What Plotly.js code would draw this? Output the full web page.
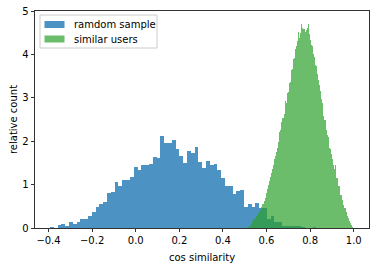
<!DOCTYPE html>
<html>
<head>
<meta charset="utf-8">
<script src="https://cdn.plot.ly/plotly-3.0.1.min.js"></script>
<style>
html,body{margin:0;padding:0;background:#fff;}
#chart{width:380px;height:266px;}
</style>
</head>
<body>
<div id="chart"></div>
<script>
// ---- data ----
const seriesNames = ["ramdom sample", "similar users"];
const blueBinStart = -0.3932;
const blueBinWidth = 0.01745;
const blueHeights = [
  0.023, 0, 0.06, 0.085, 0.04, 0.13, 0.085, 0.13, 0.20, 0.20,
  0.27, 0.38, 0.48, 0.545, 0.59, 0.80, 0.82, 1.05, 0.96, 1.10,
  1.10, 1.17, 1.41, 1.34, 1.45, 1.45, 1.47, 1.64, 1.62, 2.12,
  1.97, 1.97, 2.03, 1.82, 1.66, 1.50, 1.77, 1.73, 1.86, 1.52,
  1.38, 1.54, 1.45, 1.47, 1.33, 1.15, 0.97, 0.97, 0.78, 0.85,
  0.87, 0.49, 0.55, 0.48, 0.58, 0.47, 0.46, 0.21, 0.28, 0.14,
  0.14, 0.05, 0.05, 0.05, 0.05, 0.05, 0.03, 0.01, 0.01, 0.03
];
const greenBinStart = 0.514;
const greenBinWidth = 0.00482;
const greenHeights = [
  0.02, 0.04, 0.07, 0.10, 0.15, 0.18, 0.21, 0.24, 0.27, 0.31,
  0.35, 0.38, 0.42, 0.48, 0.55, 0.63, 0.70, 0.80, 0.90, 0.99,
  1.08, 1.18, 1.27, 1.37, 1.46, 1.58, 1.66, 1.75, 1.84, 1.99,
  2.22, 2.25, 2.45, 2.53, 2.62, 2.92, 2.89, 3.10, 3.14, 3.33,
  3.37, 3.63, 3.67, 3.90, 3.92, 4.12, 4.20, 4.30, 4.52, 4.38,
  4.50, 4.69, 4.60, 4.58, 4.52, 4.56, 4.60, 4.69, 4.48, 4.33,
  4.21, 4.20, 4.00, 3.94, 3.76, 3.74, 3.56, 3.41, 3.30, 3.15,
  2.97, 2.87, 2.58, 2.48, 2.25, 2.14, 2.10, 1.84, 1.81, 1.70,
  1.60, 1.45, 1.36, 1.46, 1.16, 1.16, 0.97, 0.97, 0.76, 0.76,
  0.64, 0.53, 0.45, 0.38, 0.28, 0.22, 0.16, 0.11, 0.07, 0.02
];
const xTickVals = [-0.4, -0.2, 0.0, 0.2, 0.4, 0.6, 0.8, 1.0];
const xTickText = ["\u22120.4", "\u22120.2", "0.0", "0.2", "0.4", "0.6", "0.8", "1.0"];
const yTickVals = [0, 1, 2, 3, 4, 5];
const xTitle = "cos similarity";
const yTitle = "relative count";

// ---- styles ----
const blueColor = "rgba(31,119,180,0.8)";
const greenColor = "rgba(44,160,44,0.7)";
const font = "DejaVu Sans, sans-serif";

function centers(start, width, n) {
  const c = [];
  for (let i = 0; i < n; i++) c.push(start + (i + 0.5) * width);
  return c;
}

const traces = [
  {
    type: "bar", name: seriesNames[0],
    x: centers(blueBinStart, blueBinWidth, blueHeights.length),
    y: blueHeights, width: blueBinWidth,
    marker: {color: blueColor, line: {width: 0}},
    showlegend: false, hoverinfo: "skip"
  },
  {
    type: "bar", name: seriesNames[1],
    x: centers(greenBinStart, greenBinWidth, greenHeights.length),
    y: greenHeights, width: greenBinWidth,
    marker: {color: greenColor, line: {width: 0}},
    showlegend: false, hoverinfo: "skip"
  }
];

// plot area in pixels
const M = {l: 35, r: 11, t: 11, b: 38};
const PW = 380 - M.l - M.r, PH = 266 - M.t - M.b;
const px = v => (v - M.l) / PW;
const py = v => (266 - M.b - v) / PH;

const shapes = [
  {type: "rect", xref: "paper", yref: "paper",
   x0: px(40), x1: px(157), y0: py(48), y1: py(15),
   fillcolor: "rgba(255,255,255,0.8)", line: {color: "#cccccc", width: 1}},
  {type: "rect", xref: "paper", yref: "paper",
   x0: px(44.5), x1: px(64.5), y0: py(28), y1: py(21),
   fillcolor: blueColor, line: {width: 0}},
  {type: "rect", xref: "paper", yref: "paper",
   x0: px(44.5), x1: px(64.5), y0: py(42.5), y1: py(35.5),
   fillcolor: greenColor, line: {width: 0}}
];
const annotations = [
  {xref: "paper", yref: "paper", x: px(72), y: py(24.5), xanchor: "left", yanchor: "middle",
   text: seriesNames[0], showarrow: false, font: {family: font, size: 10, color: "#000"}},
  {xref: "paper", yref: "paper", x: px(72), y: py(39), xanchor: "left", yanchor: "middle",
   text: seriesNames[1], showarrow: false, font: {family: font, size: 10, color: "#000"}}
];

const axisCommon = {
  showline: true, mirror: true, linecolor: "#000", linewidth: 0.8,
  ticks: "outside", ticklen: 3.5, tickwidth: 0.8, tickcolor: "#000",
  showgrid: false, zeroline: false,
  tickfont: {family: font, size: 10, color: "#000"}
};

const layout = {
  width: 380, height: 266,
  margin: M,
  paper_bgcolor: "#fff", plot_bgcolor: "#fff",
  barmode: "overlay", bargap: 0,
  showlegend: false,
  font: {family: font, size: 10, color: "#000"},
  xaxis: Object.assign({}, axisCommon, {
    range: [-0.462, 1.07], tickvals: xTickVals, ticktext: xTickText,
    title: {text: xTitle, font: {family: font, size: 10, color: "#000"}, standoff: 8}
  }),
  yaxis: Object.assign({}, axisCommon, {
    range: [0, 5], tickvals: yTickVals,
    title: {text: yTitle, font: {family: font, size: 10, color: "#000"}, standoff: 2}
  }),
  shapes: shapes,
  annotations: annotations
};

Plotly.newPlot("chart", traces, layout, {staticPlot: true, displayModeBar: false});
</script>
</body>
</html>
